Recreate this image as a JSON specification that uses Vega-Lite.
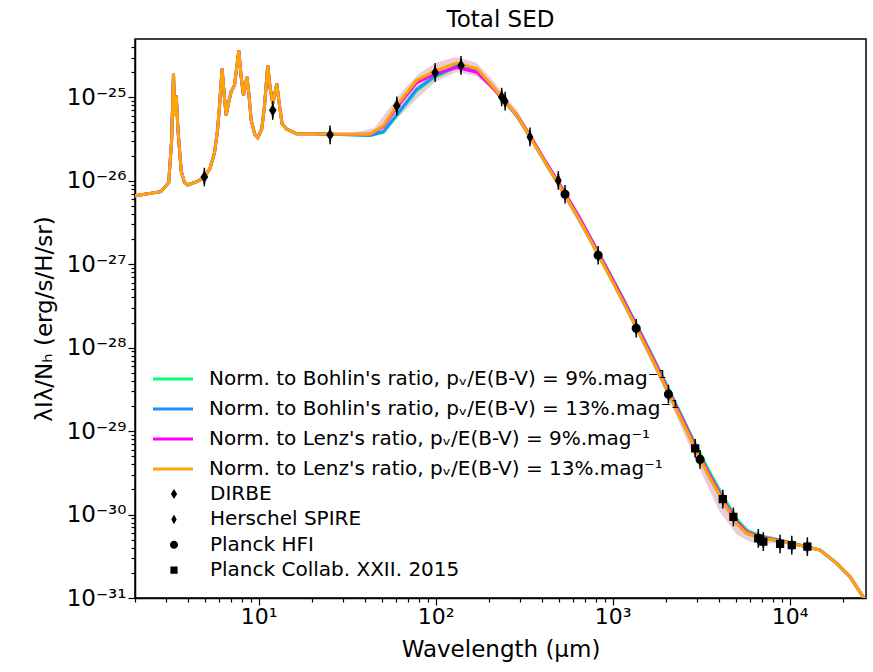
{
  "$schema": "https://vega.github.io/schema/vega-lite/v6.json",
  "width": 731,
  "height": 559,
  "autosize": {"type": "none"},
  "padding": {"left": 135, "top": 39, "right": 7, "bottom": 74},
  "background": "white",
  "title": {"text": "Total SED", "font": "DejaVu Sans", "fontSize": 23, "fontWeight": "normal", "color": "black", "offset": 7, "frame": "group", "anchor": "middle"},
  "config": {
    "view": {"stroke": "black", "strokeWidth": 1.5},
    "axis": {"domainColor": "black", "domainWidth": 1.5, "tickColor": "black", "tickWidth": 1.2, "labelColor": "black", "titleColor": "black", "labelFont": "DejaVu Sans", "titleFont": "DejaVu Sans", "labelFontSize": 22, "titleFontSize": 23, "titleFontWeight": "normal", "grid": false},
    "legend": {"labelFont": "DejaVu Sans", "labelColor": "black", "labelLimit": 0, "orient": "none"}
  },
  "datasets": {
    "models": [
      {"lam": 1.9, "b9": 6.5e-27, "b13": 6.5e-27, "l9": 6.5e-27, "l13": 6.5e-27},
      {"lam": 2.0, "b9": 6.6e-27, "b13": 6.6e-27, "l9": 6.6e-27, "l13": 6.6e-27},
      {"lam": 2.8, "b9": 7.4e-27, "b13": 7.4e-27, "l9": 7.4e-27, "l13": 7.4e-27},
      {"lam": 3.1, "b9": 9.5e-27, "b13": 9.5e-27, "l9": 9.5e-27, "l13": 9.5e-27},
      {"lam": 3.22, "b9": 3.0e-26, "b13": 3.0e-26, "l9": 3.0e-26, "l13": 3.0e-26},
      {"lam": 3.3, "b9": 1.92e-25, "b13": 1.92e-25, "l9": 1.92e-25, "l13": 1.92e-25},
      {"lam": 3.36, "b9": 6.0e-26, "b13": 6.0e-26, "l9": 6.0e-26, "l13": 6.0e-26},
      {"lam": 3.42, "b9": 1.05e-25, "b13": 1.05e-25, "l9": 1.05e-25, "l13": 1.05e-25},
      {"lam": 3.5, "b9": 4.0e-26, "b13": 4.0e-26, "l9": 4.0e-26, "l13": 4.0e-26},
      {"lam": 3.65, "b9": 1.3e-26, "b13": 1.3e-26, "l9": 1.3e-26, "l13": 1.3e-26},
      {"lam": 3.8, "b9": 9.6e-27, "b13": 9.6e-27, "l9": 9.6e-27, "l13": 9.6e-27},
      {"lam": 3.97, "b9": 8.9e-27, "b13": 8.9e-27, "l9": 8.9e-27, "l13": 8.9e-27},
      {"lam": 4.5, "b9": 9.8e-27, "b13": 9.8e-27, "l9": 9.8e-27, "l13": 9.8e-27},
      {"lam": 4.93, "b9": 1.1e-26, "b13": 1.1e-26, "l9": 1.1e-26, "l13": 1.1e-26},
      {"lam": 5.3, "b9": 1.4e-26, "b13": 1.4e-26, "l9": 1.4e-26, "l13": 1.4e-26},
      {"lam": 5.62, "b9": 2.14e-26, "b13": 2.14e-26, "l9": 2.14e-26, "l13": 2.14e-26},
      {"lam": 5.85, "b9": 4.0e-26, "b13": 4.0e-26, "l9": 4.0e-26, "l13": 4.0e-26},
      {"lam": 6.0, "b9": 7.65e-26, "b13": 7.65e-26, "l9": 7.65e-26, "l13": 7.65e-26},
      {"lam": 6.21, "b9": 2.21e-25, "b13": 2.21e-25, "l9": 2.21e-25, "l13": 2.21e-25},
      {"lam": 6.4, "b9": 1.0e-25, "b13": 1.0e-25, "l9": 1.0e-25, "l13": 1.0e-25},
      {"lam": 6.55, "b9": 6.1e-26, "b13": 6.1e-26, "l9": 6.1e-26, "l13": 6.1e-26},
      {"lam": 6.75, "b9": 8.5e-26, "b13": 8.5e-26, "l9": 8.5e-26, "l13": 8.5e-26},
      {"lam": 6.98, "b9": 1.16e-25, "b13": 1.16e-25, "l9": 1.16e-25, "l13": 1.16e-25},
      {"lam": 7.3, "b9": 1.4e-25, "b13": 1.4e-25, "l9": 1.4e-25, "l13": 1.4e-25},
      {"lam": 7.72, "b9": 3.65e-25, "b13": 3.65e-25, "l9": 3.65e-25, "l13": 3.65e-25},
      {"lam": 7.95, "b9": 1.8e-25, "b13": 1.8e-25, "l9": 1.8e-25, "l13": 1.8e-25},
      {"lam": 8.2, "b9": 1.06e-25, "b13": 1.06e-25, "l9": 1.06e-25, "l13": 1.06e-25},
      {"lam": 8.58, "b9": 1.75e-25, "b13": 1.75e-25, "l9": 1.75e-25, "l13": 1.75e-25},
      {"lam": 8.8, "b9": 1.1e-25, "b13": 1.1e-25, "l9": 1.1e-25, "l13": 1.1e-25},
      {"lam": 9.07, "b9": 5.3e-26, "b13": 5.3e-26, "l9": 5.3e-26, "l13": 5.3e-26},
      {"lam": 9.5, "b9": 3.6e-26, "b13": 3.6e-26, "l9": 3.6e-26, "l13": 3.6e-26},
      {"lam": 9.89, "b9": 3.29e-26, "b13": 3.29e-26, "l9": 3.29e-26, "l13": 3.29e-26},
      {"lam": 10.4, "b9": 4.2e-26, "b13": 4.2e-26, "l9": 4.2e-26, "l13": 4.2e-26},
      {"lam": 10.77, "b9": 7.65e-26, "b13": 7.65e-26, "l9": 7.65e-26, "l13": 7.65e-26},
      {"lam": 11.25, "b9": 2.41e-25, "b13": 2.41e-25, "l9": 2.41e-25, "l13": 2.41e-25},
      {"lam": 11.6, "b9": 1.3e-25, "b13": 1.3e-25, "l9": 1.3e-25, "l13": 1.3e-25},
      {"lam": 12.02, "b9": 8.4e-26, "b13": 8.4e-26, "l9": 8.4e-26, "l13": 8.4e-26},
      {"lam": 12.66, "b9": 1.46e-25, "b13": 1.46e-25, "l9": 1.46e-25, "l13": 1.46e-25},
      {"lam": 13.0, "b9": 9.0e-26, "b13": 9.0e-26, "l9": 9.0e-26, "l13": 9.0e-26},
      {"lam": 13.55, "b9": 4.84e-26, "b13": 4.84e-26, "l9": 4.84e-26, "l13": 4.84e-26},
      {"lam": 14.3, "b9": 4.2e-26, "b13": 4.2e-26, "l9": 4.2e-26, "l13": 4.2e-26},
      {"lam": 16.3, "b9": 3.67e-26, "b13": 3.67e-26, "l9": 3.67e-26, "l13": 3.67e-26},
      {"lam": 21, "b9": 3.65e-26, "b13": 3.65e-26, "l9": 3.65e-26, "l13": 3.65e-26},
      {"lam": 25, "b9": 3.6e-26, "b13": 3.6e-26, "l9": 3.6e-26, "l13": 3.6e-26},
      {"lam": 33, "b9": 3.55e-26, "b13": 3.55e-26, "l9": 3.6e-26, "l13": 3.6e-26},
      {"lam": 42.6, "b9": 3.5e-26, "b13": 3.5e-26, "l9": 3.6e-26, "l13": 3.6e-26},
      {"lam": 50.7, "b9": 3.8e-26, "b13": 3.9e-26, "l9": 4.5e-26, "l13": 4.6e-26},
      {"lam": 60.3, "b9": 6.0e-26, "b13": 6.2e-26, "l9": 7.6e-26, "l13": 8.0e-26},
      {"lam": 78, "b9": 1.2e-25, "b13": 1.25e-25, "l9": 1.5e-25, "l13": 1.6e-25},
      {"lam": 99, "b9": 1.75e-25, "b13": 1.8e-25, "l9": 1.9e-25, "l13": 2.07e-25},
      {"lam": 131, "b9": 2.3e-25, "b13": 2.38e-25, "l9": 2.27e-25, "l13": 2.58e-25},
      {"lam": 171, "b9": 2.1e-25, "b13": 2.12e-25, "l9": 2.0e-25, "l13": 2.21e-25},
      {"lam": 203, "b9": 1.45e-25, "b13": 1.45e-25, "l9": 1.4e-25, "l13": 1.46e-25},
      {"lam": 236, "b9": 1.0e-25, "b13": 1.0e-25, "l9": 9.8e-26, "l13": 1.0e-25},
      {"lam": 287, "b9": 6.0e-26, "b13": 6.0e-26, "l9": 6.2e-26, "l13": 6.1e-26},
      {"lam": 341, "b9": 3.45e-26, "b13": 3.4e-26, "l9": 3.5e-26, "l13": 3.4e-26},
      {"lam": 420, "b9": 1.65e-26, "b13": 1.6e-26, "l9": 1.66e-26, "l13": 1.6e-26},
      {"lam": 505, "b9": 8.9e-27, "b13": 8.5e-27, "l9": 8.9e-27, "l13": 8.5e-27},
      {"lam": 650, "b9": 3.6e-27, "b13": 3.4e-27, "l9": 3.6e-27, "l13": 3.4e-27},
      {"lam": 832, "b9": 1.38e-27, "b13": 1.28e-27, "l9": 1.36e-27, "l13": 1.28e-27},
      {"lam": 1100, "b9": 4.6e-28, "b13": 4.2e-28, "l9": 4.5e-28, "l13": 4.2e-28},
      {"lam": 1368, "b9": 1.88e-28, "b13": 1.7e-28, "l9": 1.82e-28, "l13": 1.7e-28},
      {"lam": 1700, "b9": 7.6e-29, "b13": 6.8e-29, "l9": 7.3e-29, "l13": 6.8e-29},
      {"lam": 2066, "b9": 3.25e-29, "b13": 2.88e-29, "l9": 3.1e-29, "l13": 2.88e-29},
      {"lam": 2500, "b9": 1.42e-29, "b13": 1.25e-29, "l9": 1.35e-29, "l13": 1.25e-29},
      {"lam": 2985, "b9": 6.5e-30, "b13": 5.65e-30, "l9": 6.1e-30, "l13": 5.65e-30},
      {"lam": 3500, "b9": 3.35e-30, "b13": 2.9e-30, "l9": 3.1e-30, "l13": 2.9e-30},
      {"lam": 4220, "b9": 1.65e-30, "b13": 1.42e-30, "l9": 1.52e-30, "l13": 1.42e-30},
      {"lam": 5020, "b9": 8.9e-31, "b13": 7.8e-31, "l9": 8.3e-31, "l13": 7.8e-31},
      {"lam": 5720, "b9": 6.5e-31, "b13": 5.96e-31, "l9": 6.2e-31, "l13": 5.96e-31},
      {"lam": 6810, "b9": 5.6e-31, "b13": 5.33e-31, "l9": 5.45e-31, "l13": 5.33e-31},
      {"lam": 9200, "b9": 4.85e-31, "b13": 4.73e-31, "l9": 4.8e-31, "l13": 4.73e-31},
      {"lam": 12460, "b9": 4.12e-31, "b13": 4.12e-31, "l9": 4.12e-31, "l13": 4.12e-31},
      {"lam": 14860, "b9": 3.76e-31, "b13": 3.76e-31, "l9": 3.76e-31, "l13": 3.76e-31},
      {"lam": 18450, "b9": 2.6e-31, "b13": 2.6e-31, "l9": 2.6e-31, "l13": 2.6e-31},
      {"lam": 21930, "b9": 1.8e-31, "b13": 1.8e-31, "l9": 1.8e-31, "l13": 1.8e-31},
      {"lam": 25540, "b9": 1.09e-31, "b13": 1.09e-31, "l9": 1.09e-31, "l13": 1.09e-31},
      {"lam": 28000, "b9": 8.5e-32, "b13": 8.5e-32, "l9": 8.5e-32, "l13": 8.5e-32}
    ],
    "band": [
      {"lam": 35, "lo": 3.45e-26, "hi": 3.8e-26},
      {"lam": 45, "lo": 3.45e-26, "hi": 4.3e-26},
      {"lam": 55, "lo": 4.6e-26, "hi": 7.5e-26},
      {"lam": 65, "lo": 6.5e-26, "hi": 1.2e-25},
      {"lam": 80, "lo": 1.0e-25, "hi": 1.9e-25},
      {"lam": 100, "lo": 1.55e-25, "hi": 2.6e-25},
      {"lam": 130, "lo": 2.0e-25, "hi": 3.05e-25},
      {"lam": 170, "lo": 1.8e-25, "hi": 2.6e-25},
      {"lam": 210, "lo": 1.22e-25, "hi": 1.6e-25},
      {"lam": 290, "lo": 5.4e-26, "hi": 6.8e-26},
      {"lam": 500, "lo": 7.8e-27, "hi": 9.5e-27},
      {"lam": 850, "lo": 1.1e-27, "hi": 1.4e-27},
      {"lam": 1400, "lo": 1.4e-28, "hi": 1.8e-28},
      {"lam": 2100, "lo": 2.3e-29, "hi": 3.0e-29},
      {"lam": 3000, "lo": 4.1e-30, "hi": 6.2e-30},
      {"lam": 4000, "lo": 1.1e-30, "hi": 1.8e-30},
      {"lam": 5000, "lo": 5.8e-31, "hi": 9.0e-31},
      {"lam": 6000, "lo": 4.7e-31, "hi": 6.5e-31},
      {"lam": 7500, "lo": 4.5e-31, "hi": 5.3e-31},
      {"lam": 9000, "lo": 4.6e-31, "hi": 4.8e-31}
    ],
    "obs": [
      {"lam": 4.93, "I": 1.11e-26, "lo": 9.2e-27, "hi": 1.33e-26, "inst": "DIRBE"},
      {"lam": 12.0, "I": 6.98e-26, "lo": 5.8e-26, "hi": 8.4e-26, "inst": "DIRBE"},
      {"lam": 25.3, "I": 3.55e-26, "lo": 2.96e-26, "hi": 4.26e-26, "inst": "DIRBE"},
      {"lam": 60.3, "I": 7.9e-26, "lo": 6.6e-26, "hi": 9.5e-26, "inst": "DIRBE"},
      {"lam": 99.3, "I": 1.98e-25, "lo": 1.65e-25, "hi": 2.38e-25, "inst": "DIRBE"},
      {"lam": 139, "I": 2.41e-25, "lo": 2.0e-25, "hi": 2.9e-25, "inst": "DIRBE"},
      {"lam": 236, "I": 1.01e-25, "lo": 8.4e-26, "hi": 1.21e-25, "inst": "DIRBE"},
      {"lam": 247, "I": 9.0e-26, "lo": 7.5e-26, "hi": 1.08e-25, "inst": "Herschel SPIRE"},
      {"lam": 341, "I": 3.35e-26, "lo": 2.8e-26, "hi": 4.0e-26, "inst": "Herschel SPIRE"},
      {"lam": 493, "I": 1.01e-26, "lo": 8.4e-27, "hi": 1.21e-26, "inst": "Herschel SPIRE"},
      {"lam": 538, "I": 6.9e-27, "lo": 5.9e-27, "hi": 8.1e-27, "inst": "Planck HFI"},
      {"lam": 828, "I": 1.28e-27, "lo": 1.09e-27, "hi": 1.5e-27, "inst": "Planck HFI"},
      {"lam": 1358, "I": 1.71e-28, "lo": 1.45e-28, "hi": 2.0e-28, "inst": "Planck HFI"},
      {"lam": 2066, "I": 2.77e-29, "lo": 2.35e-29, "hi": 3.25e-29, "inst": "Planck HFI"},
      {"lam": 3119, "I": 4.58e-30, "lo": 3.9e-30, "hi": 5.4e-30, "inst": "Planck HFI"},
      {"lam": 2926, "I": 6.2e-30, "lo": 5.3e-30, "hi": 7.3e-30, "inst": "Planck Collab. XXII. 2015"},
      {"lam": 4190, "I": 1.53e-30, "lo": 1.3e-30, "hi": 1.8e-30, "inst": "Planck Collab. XXII. 2015"},
      {"lam": 4810, "I": 9.4e-31, "lo": 8.0e-31, "hi": 1.1e-30, "inst": "Planck Collab. XXII. 2015"},
      {"lam": 6650, "I": 5.19e-31, "lo": 4.4e-31, "hi": 6.1e-31, "inst": "Planck Collab. XXII. 2015"},
      {"lam": 7100, "I": 4.73e-31, "lo": 4.0e-31, "hi": 5.6e-31, "inst": "Planck Collab. XXII. 2015"},
      {"lam": 8830, "I": 4.44e-31, "lo": 3.8e-31, "hi": 5.2e-31, "inst": "Planck Collab. XXII. 2015"},
      {"lam": 10280, "I": 4.31e-31, "lo": 3.7e-31, "hi": 5.0e-31, "inst": "Planck Collab. XXII. 2015"},
      {"lam": 12590, "I": 4.12e-31, "lo": 3.5e-31, "hi": 4.8e-31, "inst": "Planck Collab. XXII. 2015"}
    ]
  },
  "layer": [
    {
      "data": {"name": "band"},
      "mark": {"type": "area", "color": "#d99aae", "opacity": 0.5, "clip": true},
      "encoding": {
        "x": {"field": "lam", "type": "quantitative", "scale": {"type": "log", "domain": [2, 27000], "nice": false},
          "axis": {"orient": "bottom", "values": [2,3,4,5,6,7,8,9,20,30,40,50,60,70,80,90,200,300,400,500,600,700,800,900,2000,3000,4000,5000,6000,7000,8000,9000,20000], "labels": false, "tickSize": 4, "domain": false, "title": null, "grid": false}},
        "y": {"field": "lo", "type": "quantitative", "scale": {"type": "log", "domain": [1e-31, 5e-25], "nice": false},
          "axis": {"orient": "left", "values": [2e-31,3e-31,4e-31,5e-31,6e-31,7e-31,8e-31,9e-31,2e-30,3e-30,4e-30,5e-30,6e-30,7e-30,8e-30,9e-30,2e-29,3e-29,4e-29,5e-29,6e-29,7e-29,8e-29,9e-29,2e-28,3e-28,4e-28,5e-28,6e-28,7e-28,8e-28,9e-28,2e-27,3e-27,4e-27,5e-27,6e-27,7e-27,8e-27,9e-27,2e-26,3e-26,4e-26,5e-26,6e-26,7e-26,8e-26,9e-26,2e-25,3e-25,4e-25], "labels": false, "tickSize": 4, "domain": false, "title": null, "grid": false}},
        "y2": {"field": "hi"}
      }
    },
    {
      "data": {"name": "models"},
      "transform": [{"fold": ["b9", "b13", "l9", "l13"], "as": ["model", "I"]}],
      "mark": {"type": "line", "strokeWidth": 3, "clip": true},
      "encoding": {
        "x": {"field": "lam", "type": "quantitative", "scale": {"type": "log", "domain": [2, 27000], "nice": false},
          "axis": {"orient": "bottom", "values": [10, 100, 1000, 10000], "tickSize": 7, "labelPadding": 1, "labelExpr": "datum.value < 50 ? '10¹' : datum.value < 500 ? '10²' : datum.value < 5000 ? '10³' : '10⁴'", "title": "Wavelength (μm)", "titlePadding": 11}},
        "y": {"field": "I", "type": "quantitative", "scale": {"type": "log", "domain": [1e-31, 5e-25], "nice": false},
          "axis": {"orient": "left", "values": [1e-31, 1e-30, 1e-29, 1e-28, 1e-27, 1e-26, 1e-25], "tickSize": 7, "labelPadding": 2, "labelFontSize": 23, "labelExpr": "datum.value < 3e-31 ? '10⁻³¹' : datum.value < 3e-30 ? '10⁻³⁰' : datum.value < 3e-29 ? '10⁻²⁹' : datum.value < 3e-28 ? '10⁻²⁸' : datum.value < 3e-27 ? '10⁻²⁷' : datum.value < 3e-26 ? '10⁻²⁶' : '10⁻²⁵'", "title": "λIλ/Nₕ (erg/s/H/sr)", "titlePadding": 10}},
        "color": {"field": "model", "type": "nominal",
          "scale": {"domain": ["b9", "b13", "l9", "l13"], "range": ["#00ff7f", "#1e90ff", "#ff00ff", "#ffa500"]},
          "legend": {"orient": "none", "legendX": 28, "legendY": 330, "title": null, "symbolType": "M-5,0L5,0", "symbolSize": 64, "symbolStrokeWidth": 3, "labelFontSize": 20, "labelOffset": 26, "rowPadding": 10,
            "labelExpr": "datum.label == 'b9' ? \"Norm. to Bohlin's ratio, pᵥ/E(B-V) = 9%.mag⁻¹\" : datum.label == 'b13' ? \"Norm. to Bohlin's ratio, pᵥ/E(B-V) = 13%.mag⁻¹\" : datum.label == 'l9' ? \"Norm. to Lenz's ratio, pᵥ/E(B-V) = 9%.mag⁻¹\" : \"Norm. to Lenz's ratio, pᵥ/E(B-V) = 13%.mag⁻¹\""}}
      }
    },
    {
      "data": {"name": "obs"},
      "mark": {"type": "rule", "color": "black", "strokeWidth": 1.8},
      "encoding": {
        "x": {"field": "lam", "type": "quantitative", "scale": {"type": "log", "domain": [2, 27000], "nice": false}, "axis": null},
        "y": {"field": "lo", "type": "quantitative", "scale": {"type": "log", "domain": [1e-31, 5e-25], "nice": false}, "axis": null},
        "y2": {"field": "hi"}
      }
    },
    {
      "data": {"name": "obs"},
      "mark": {"type": "point", "filled": true, "fill": "black", "stroke": "black", "strokeWidth": 1.5, "size": 72, "opacity": 1},
      "encoding": {
        "x": {"field": "lam", "type": "quantitative", "scale": {"type": "log", "domain": [2, 27000], "nice": false}, "axis": null},
        "y": {"field": "I", "type": "quantitative", "scale": {"type": "log", "domain": [1e-31, 5e-25], "nice": false}, "axis": null},
        "shape": {"field": "inst", "type": "nominal",
          "scale": {"domain": ["DIRBE", "Herschel SPIRE", "Planck HFI", "Planck Collab. XXII. 2015"],
            "range": ["M0,-2.2L0,2.2M-0.7,0L0,-1.1L0.7,0L0,1.1Z", "M0,-2.2L0,2.2M-0.6,0L0,-1.1L0.6,0L0,1.1Z", "M0,-2.2L0,2.2M-0.9,0A0.9,0.9,0,1,0,0.9,0A0.9,0.9,0,1,0,-0.9,0Z", "M0,-2.2L0,2.2M-0.8,-0.8L0.8,-0.8L0.8,0.8L-0.8,0.8Z"]},
          "legend": {"orient": "none", "legendX": 29, "legendY": 445, "title": null, "symbolSize": 81, "symbolFillColor": "black", "symbolStrokeColor": "black", "symbolStrokeWidth": 1.5, "labelFontSize": 20, "labelOffset": 26, "rowPadding": -0.6}}
      }
    }
  ],
  "resolve": {"axis": {"x": "independent", "y": "independent"}, "legend": {"color": "independent", "shape": "independent"}}
}
